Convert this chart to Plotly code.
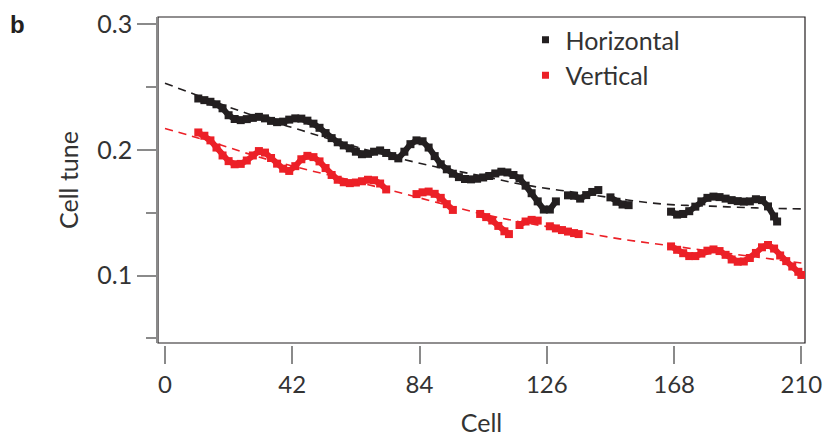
import plotly.graph_objects as go

# ---- data ----
h_cell = [11,13,15,17,19,21,23,25,27,29,31,33,35,37,39,41,43,45,47,49,51,53,55,57,59,61,63,65,67,69,
          71,73,75,77,79,81,83,85,87,89,91,93,95,97,99,101,103,105,107,109,111,113,115,117,119,121,123,125,127,129,
          131,133,135,137,139,141,143,145,147,149,151,153,155,167,169,171,173,175,177,179,181,183,185,187,189,191,
          193,195,197,199,201,202]
h_tune = [0.2408,0.2395,0.2382,0.2362,0.2330,0.2275,0.2245,0.2236,0.2244,0.2254,0.2262,0.2250,0.2230,0.2220,0.2224,
          0.2240,0.2250,0.2248,0.2232,0.2208,0.2175,0.2133,0.2093,0.2060,0.2035,0.2012,0.1985,0.1965,0.1968,0.1985,
          0.1995,0.1975,0.1950,0.1932,0.1985,0.2045,0.2075,0.2068,0.2018,0.1950,0.1885,0.1845,0.1810,0.1783,0.1768,
          0.1765,0.1770,0.1780,0.1792,0.1812,0.1826,0.1820,0.1800,0.1773,0.1715,0.1655,0.1590,0.1525,0.1525,0.1590,
          None,0.1638,0.1635,0.1612,0.1640,0.1665,0.1680,None,0.1622,0.1587,0.1565,0.1560,None,0.1508,0.1485,0.1490,
          0.1512,0.1548,0.1590,0.1618,0.1628,0.1624,0.1612,0.1600,0.1592,0.1588,0.1590,0.1607,0.1600,0.1550,0.1470,0.1430]

v_cell = [11,13,15,17,19,21,23,25,27,29,31,33,35,37,39,41,43,45,47,49,51,53,55,57,59,61,63,65,67,69,71,73,75,
          83,85,87,89,91,93,95,97,104,106,108,110,112,113.5,115,117,119,121,123,125,127,129,131,133,135,136.5,138,
          167,169,171,173,175,177,179,181,183,185,187,189,191,193,195,197,199,201,203,205,207,209,210]
v_tune = [0.2138,0.2112,0.2075,0.2018,0.1955,0.1910,0.1885,0.1888,0.1915,0.1955,0.1990,0.1978,0.1935,0.1890,0.1850,
          0.1832,0.1870,0.1925,0.1952,0.1942,0.1908,0.1855,0.1800,0.1762,0.1742,0.1735,0.1740,0.1750,0.1762,0.1758,
          0.1732,0.1685,None,
          0.1648,0.1662,0.1668,0.1650,0.1618,0.1568,0.1522,None,0.1490,0.1465,0.1438,0.1395,0.1352,0.1330,None,
          0.1402,0.1430,0.1443,0.1437,None,0.1392,0.1375,0.1362,0.1350,0.1338,0.1330,None,
          0.1232,0.1205,0.1178,0.1155,0.1155,0.1175,0.1198,0.1208,0.1195,0.1165,0.1128,0.1110,0.1112,0.1140,0.1180,
          0.1225,0.1243,0.1215,0.1160,0.1115,0.1072,0.1030,0.1005]

fit_cell = [0,15,30,45,60,75,90,105,120,135,150,165,180,195,210]
h_fit = [0.2530,0.2394,0.2265,0.2155,0.2045,0.1945,0.1862,0.1790,0.1715,0.1663,0.1610,0.1567,0.1552,0.1538,0.1530]
v_fit = [0.2170,0.2065,0.1950,0.1853,0.1765,0.1675,0.1580,0.1488,0.1415,0.1355,0.1292,0.1243,0.1195,0.1148,0.1100]

x_ticks = [0, 42, 84, 126, 168, 210]
y_ticks = [0.1, 0.2, 0.3]
y_labels = ["0.1", "0.2", "0.3"]
names = ["Horizontal", "Vertical"]

BLACK = "#231f20"
RED = "#ec2027"
AXIS = "#8a8a8a"
TXT = "#333333"
FONT = "Lato"
FS = 25

fig = go.Figure()
for fx, col in ((h_fit, BLACK), (v_fit, RED)):
    fig.add_trace(go.Scatter(x=fit_cell, y=fx, mode="lines", showlegend=False, hoverinfo="skip",
                             line=dict(color=col, width=1.6, dash="8px,6px", shape="spline")))
for xs, ys, col in ((h_cell, h_tune, BLACK), (v_cell, v_tune, RED)):
    fig.add_trace(go.Scatter(x=xs, y=ys, mode="lines+markers", showlegend=False, connectgaps=False,
                             line=dict(color=col, width=6),
                             marker=dict(symbol="square", size=8, color=col, line=dict(width=0))))
for nm, col in zip(names, (BLACK, RED)):
    fig.add_trace(go.Scatter(x=[None], y=[None], mode="markers", name=nm,
                             marker=dict(symbol="square", size=7, color=col, line=dict(width=0))))

fig.add_shape(type="rect", xref="paper", yref="y domain", x0=0, x1=1, y0=0, y1=1,
              line=dict(color=BLACK, width=1.2), layer="below")

fig.add_annotation(text="<b>b</b>", xref="paper", yref="paper", x=-0.232, y=1.025,
                   xanchor="left", yanchor="top", showarrow=False,
                   font=dict(family="Liberation Sans", size=24, color=BLACK))

fig.update_layout(
    width=823, height=437,
    margin=dict(l=158, r=18, t=17, b=92),
    paper_bgcolor="white", plot_bgcolor="white",
    font=dict(family=FONT, size=FS, color=TXT),
    showlegend=True,
    legend=dict(x=0.568, y=1.0, xanchor="left", yanchor="top", bgcolor="rgba(0,0,0,0)",
                font=dict(family=FONT, size=FS, color=TXT), itemwidth=30, tracegroupgap=0),
    xaxis=dict(range=[-2.3, 211.2], anchor="free", position=0, showline=False, showgrid=False,
               zeroline=False, tickvals=x_ticks, ticks="outside", ticklen=18, tickwidth=1.5,
               tickcolor=AXIS, tickfont=dict(family=FONT, size=24, color=TXT), automargin=False,
               ticklabeloverflow="allow",
               title=dict(text="Cell", standoff=23, font=dict(family=FONT, size=FS, color=TXT))),
    yaxis=dict(range=[0.0464, 0.3056], domain=[2/328, 1], showline=True, linecolor=AXIS, linewidth=1.5,
               showgrid=False, zeroline=False, tickvals=y_ticks, ticktext=y_labels, ticks="outside",
               ticklen=19, tickwidth=1.5, tickcolor=AXIS, tickfont=dict(family=FONT, size=FS, color=TXT),
               automargin=False,
               minor=dict(tickvals=[0.05, 0.15, 0.25], ticks="outside", ticklen=10, tickwidth=1.5,
                          tickcolor=AXIS, showgrid=False),
               title=dict(text="Cell tune", standoff=12, font=dict(family=FONT, size=FS, color=TXT))),
)

fig.write_html("out.html")
